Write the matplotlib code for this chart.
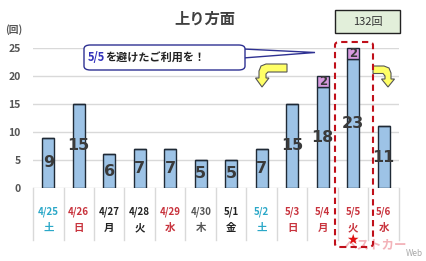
import matplotlib
matplotlib.use("Agg")
import matplotlib.pyplot as plt
from matplotlib.patches import FancyBboxPatch, Polygon
from matplotlib.transforms import blended_transform_factory

plt.rcParams['font.family'] = ['Noto Sans CJK JP', 'DejaVu Sans']

dates = ["4/25", "4/26", "4/27", "4/28", "4/29", "4/30", "5/1", "5/2", "5/3", "5/4", "5/5", "5/6"]
weekdays = ["土", "日", "月", "火", "水", "木", "金", "土", "日", "月", "火", "水"]
base_vals = [9, 15, 6, 7, 7, 5, 5, 7, 15, 18, 23, 11]
extra_vals = [0, 0, 0, 0, 0, 0, 0, 0, 0, 2, 2, 0]
label_colors = ["#2BA8C8", "#C8323C", "#222222", "#222222", "#C8323C", "#555555",
                "#222222", "#2BA8C8", "#C8323C", "#C8323C", "#C8323C", "#C8323C"]
yticks = [0, 5, 10, 15, 20, 25]
total_text = "132回"
title = "上り方面"
callout = "を避けたご利用を！"

W, H = 427, 261
fig = plt.figure(figsize=(W / 100, H / 100), dpi=100)
fig.patch.set_facecolor("white")

def fx(px):
    return px / W

def fy(py):
    return 1 - py / H

ax = fig.add_axes([fx(33), fy(188), fx(399) - fx(33), fy(48) - fy(188)])
ax.set_xlim(-0.5, 11.5)
ax.set_ylim(0, 25)
for s in ax.spines.values():
    s.set_visible(False)
ax.set_xticks([])
ax.set_yticks(yticks)
ax.tick_params(axis='y', length=0, pad=9, labelsize=7.5, labelcolor="#555555")
for t in ax.get_yticklabels():
    t.set_fontweight("bold")
for y in yticks:
    ax.axhline(y, color="#D9D9D9", lw=1.0, zorder=0)

x = list(range(len(dates)))
ax.bar(x, base_vals, width=0.4, color="#9DC3E6", edgecolor="#1F2A36", lw=1.0, zorder=3)
ax.bar(x, extra_vals, bottom=base_vals, width=0.4, color="#D89BE0", edgecolor="#1F2A36",
       lw=1.0, zorder=3, clip_on=False)

for i, (b, e) in enumerate(zip(base_vals, extra_vals)):
    ax.text(i, b / 2, str(b), ha="center", va="center", fontsize=11.5, fontweight="bold",
            color="#3A3A3A", zorder=5, family="DejaVu Sans")
    if e:
        ax.text(i, b + e / 2, str(e), ha="center", va="center", fontsize=8.5, fontweight="bold",
                color="#3A3A3A", zorder=5, family="DejaVu Sans", clip_on=False)

trans = blended_transform_factory(ax.transData, ax.transAxes)
for i in range(len(dates) + 1):
    ax.plot([i - 0.5, i - 0.5], [0, -0.37], transform=trans, color="#D9D9D9", lw=1.0,
            clip_on=False)
for i, (d, w, c) in enumerate(zip(dates, weekdays, label_colors)):
    ax.text(i, -0.17, d, transform=trans, ha="center", va="center", fontsize=7,
            fontweight="bold", color=c)
    ax.text(i, -0.285, w, transform=trans, ha="center", va="center", fontsize=7.5,
            fontweight="bold", color=c)

fig.text(fx(14), fy(30), "(回)", ha="center", va="center", fontsize=7, color="#555555",
         fontweight="bold")

fig.text(fx(205), fy(19), title, ha="center", va="center", fontsize=11, color="#404040",
         fontweight="bold")

box = FancyBboxPatch((fx(335), fy(33)), fx(400) - fx(335), fy(10) - fy(33),
                     boxstyle="square,pad=0", transform=fig.transFigure,
                     facecolor="#E2EFDA", edgecolor="#222222", lw=1.0)
fig.patches.append(box)
fig.text(fx(367.5), fy(21.5), total_text, ha="center", va="center", fontsize=8, color="#333333")

# callout pointer
ptr = Polygon([(fx(243), fy(49)), (fx(315), fy(52.5)), (fx(243), fy(58))], closed=True,
              transform=fig.transFigure, facecolor="white", edgecolor="#2E3192", lw=1.0,
              zorder=4)
fig.patches.append(ptr)
cb = FancyBboxPatch((fx(84), fy(70)), fx(245) - fx(84), fy(45) - fy(70),
                    boxstyle="round,pad=0,rounding_size=0.015", transform=fig.transFigure,
                    facecolor="white", edgecolor="#2E3192", lw=1.0, zorder=5)
fig.patches.append(cb)
t1 = fig.text(fx(88), fy(57.5), "5/5", ha="left", va="center", fontsize=8, color="#3333BB",
              fontweight="bold", zorder=6)
fig.canvas.draw()
bb = t1.get_window_extent()
fig.text(bb.x1 / fig.bbox.width, fy(57.5), callout, ha="left", va="center", fontsize=8,
         color="#222222", fontweight="bold", zorder=6)

# yellow bent arrows
left_arrow = [(287, 64), (266, 64), (261, 66), (259, 71), (259, 78), (255.5, 78), (262, 87),
              (269, 78), (266, 78), (266, 74), (268, 72), (287, 72)]
right_arrow = [(373, 66), (384, 66), (389, 68), (391, 73), (391, 79), (394.5, 79), (388, 87),
               (381.5, 79), (385, 79), (385, 76), (383, 73.5), (373, 73.5)]
for pts in (left_arrow, right_arrow):
    poly = Polygon([(fx(a), fy(b)) for a, b in pts], closed=True, transform=fig.transFigure,
                   facecolor="#FFFF66", edgecolor="#555555", lw=0.8, zorder=6)
    fig.patches.append(poly)

# red dashed highlight
hl = FancyBboxPatch((fx(335), fy(247)), fx(373) - fx(335), fy(42) - fy(247),
                    boxstyle="round,pad=0,rounding_size=0.012", transform=fig.transFigure,
                    facecolor="none", edgecolor="#C0101A", lw=1.5, ls=(0, (3, 2)), zorder=7)
fig.patches.append(hl)
fig.text(fx(352), fy(240), "★", ha="center", va="center", fontsize=10, color="#E01010",
         family="DejaVu Sans", zorder=8)

# watermark
fig.text(fx(376), fy(245), "ベストカー", ha="center", va="center", fontsize=9,
         color="#F0A0A8", fontweight="bold", style="italic", alpha=0.8)
fig.text(fx(414), fy(253), "Web", ha="center", va="center", fontsize=6,
         color="#A0A0A0", alpha=0.9)

fig.savefig("out.png", dpi=100)
